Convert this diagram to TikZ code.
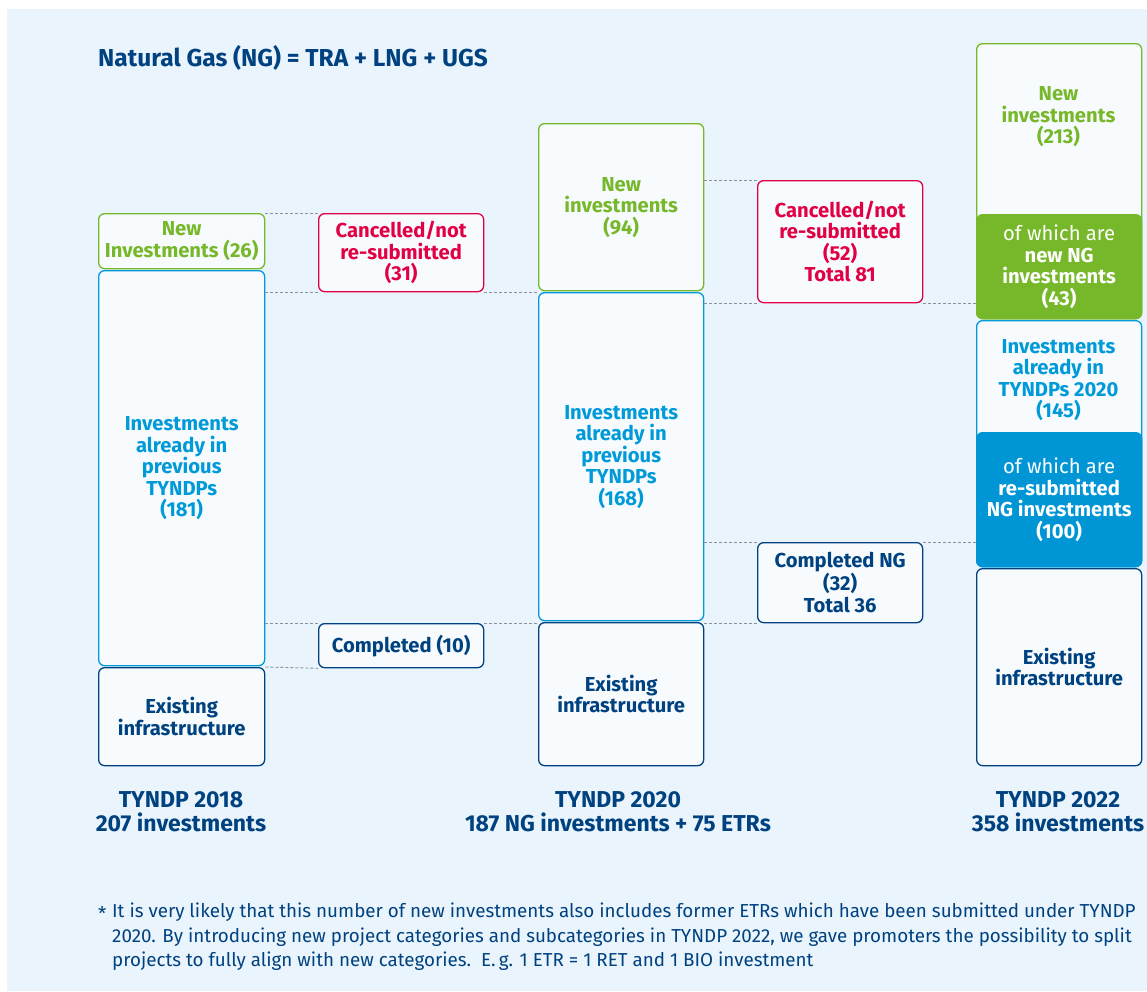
\documentclass[tikz,border=0pt]{standalone}
\usepackage{fontspec}
\setmainfont{Fira Sans}
\newfontfamily\footfont{Fira Sans}
\definecolor{bgblue}{RGB}{234,244,253}
\definecolor{boxfill}{RGB}{247,251,254}
\definecolor{ngreen}{RGB}{118,184,42}
\definecolor{ncyan}{RGB}{0,154,217}
\definecolor{nblue}{RGB}{0,150,214}
\definecolor{navy}{RGB}{0,66,128}
\definecolor{nred}{RGB}{226,0,68}
\definecolor{dashgray}{RGB}{140,146,154}
\begin{document}
\begin{tikzpicture}[x=1pt,y=-1pt,
  box/.style={draw, rounded corners=6pt, line width=1.3pt, fill=boxfill, inner sep=0pt,
    align=center, anchor=north west, font=\bfseries\fontsize{20.2}{21.5}\selectfont},
  greenbox/.style={box, draw=ngreen, text=ngreen},
  cyanbox/.style={box, draw=ncyan, text=ncyan},
  navybox/.style={box, draw=navy, text=navy},
  redbox/.style={box, draw=nred, text=nred},
  greenfill/.style={box, draw=ngreen, fill=ngreen, text=white},
  bluefill/.style={box, draw=nblue, fill=nblue, text=white},
  boxtext/.style={inner sep=0pt, align=center, font=\bfseries\fontsize{20.2}{21.5}\selectfont},
  caption/.style={inner sep=0pt, align=center, text=navy, font=\bfseries\fontsize{23}{24}\selectfont},
  guide/.style={draw=dashgray, line width=0.9pt, dash pattern=on 3pt off 2pt}
]
\useasboundingbox (0,0) rectangle (1147,991);
\fill[white] (0,0) rectangle (1147,991);
\fill[bgblue] (7,9) rectangle (1147,991);

\node[inner sep=0pt, anchor=west, text=navy, font=\bfseries\fontsize{24.5}{26}\selectfont] (title) at (98,58) {Natural Gas (NG) = TRA + LNG + UGS};

% column 2018
\node[greenbox, minimum width=166pt, minimum height=55pt] (n1new) at (98,213) {New\\Investments (26)};
\node[cyanbox, minimum width=166pt, minimum height=395pt] (n1prev) at (98,270) {Investments\\already in\\previous\\TYNDPs\\(181)};
\node[navybox, minimum width=166pt, minimum height=98pt] (n1ex) at (98,667) {Existing\\infrastructure};

% between 2018 and 2020
\node[redbox, minimum width=165pt, minimum height=78pt] (c1) at (318,213) {Cancelled/not\\re-submitted\\(31)};
\node[navybox, minimum width=165pt, minimum height=44pt] (d1) at (318,623) {Completed (10)};

% column 2020
\node[greenbox, minimum width=165pt, minimum height=167pt] (n2new) at (538,123) {New\\investments\\(94)};
\node[cyanbox, minimum width=165pt, minimum height=328pt] (n2prev) at (538,292) {Investments\\already in\\previous\\TYNDPs\\(168)};
\node[navybox, minimum width=165pt, minimum height=143pt] (n2ex) at (538,622) {Existing\\infrastructure};

% between 2020 and 2022
\node[redbox, minimum width=165pt, minimum height=122pt] (c2) at (757,180) {Cancelled/not\\re-submitted\\(52)\\Total 81};
\node[navybox, minimum width=165pt, minimum height=80pt] (d2) at (757,542) {Completed NG\\(32)\\Total 36};

% column 2022
\node[greenbox, minimum width=165pt, minimum height=275pt] (n3new) at (976,43) {};
\node[boxtext, text=ngreen] (n3newt) at (1058.5,117) {New\\investments\\(213)};
\node[greenfill, minimum width=165pt, minimum height=104pt] (n3sub) at (976,214) {\mdseries of which are\\new NG\\investments\\(43)};
\node[cyanbox, minimum width=165pt, minimum height=246pt] (n3prev) at (976,320) {};
\node[boxtext, text=ncyan] (n3prevt) at (1058.5,380) {Investments\\already in\\TYNDPs 2020\\(145)};
\node[bluefill, minimum width=165pt, minimum height=134pt] (n3res) at (976,432) {\mdseries of which are\\re-submitted\\NG investments\\(100)};
\node[navybox, minimum width=165pt, minimum height=197pt] (n3ex) at (976,568) {Existing\\infrastructure};

% captions
\node[caption] (l1) at (181,812) {TYNDP 2018\\207 investments};
\node[caption] (l2) at (618,812) {TYNDP 2020\\187 NG investments + 75 ETRs};
\node[caption] (l3) at (1058,812) {TYNDP 2022\\358 investments};

% guide lines
\draw[guide] (n1new.north east) -- (c1.north west);
\draw[guide] (n1prev.east |- c1.south west) -- (c1.south west);
\draw[guide] (c1.south east) -- (n2prev.west |- c1.south east);
\draw[guide] (n1prev.east |- d1.north west) -- (d1.north west);
\draw[guide] (d1.north east) -- (n2ex.west |- d1.north east);
\draw[guide] (n1ex.north east) -- (d1.south west);
\draw[guide] (n2new.east |- c2.north west) -- (c2.north west);
\draw[guide] (n2prev.east |- c2.south west) -- (c2.south west);
\draw[guide] (c2.south east) -- (n3sub.west |- c2.south east);
\draw[guide] (n2prev.east |- d2.north west) -- (d2.north west);
\draw[guide] (d2.north east) -- (n3res.west |- d2.north east);
\draw[guide] (n2ex.east |- d2.south west) -- (d2.south west);

% footnote
\node[inner sep=0pt, anchor=base west, text=navy, font=\footfont\fontsize{18.8}{24.5}\selectfont] (star) at (98,920) {*};
\node[inner sep=0pt, anchor=north west, align=left, text=navy, font=\footfont\fontsize{18.8}{24.5}\selectfont] (foot) at (112,903) {It is very likely that this number of new investments also includes former ETRs which have been submitted under TYNDP\\2020. By introducing new project categories and subcategories in TYNDP 2022, we gave promoters the possibility to split\\projects to fully align with new categories.\ \ E.\,g. 1 ETR = 1 RET and 1 BIO investment};
\end{tikzpicture}
\end{document}
